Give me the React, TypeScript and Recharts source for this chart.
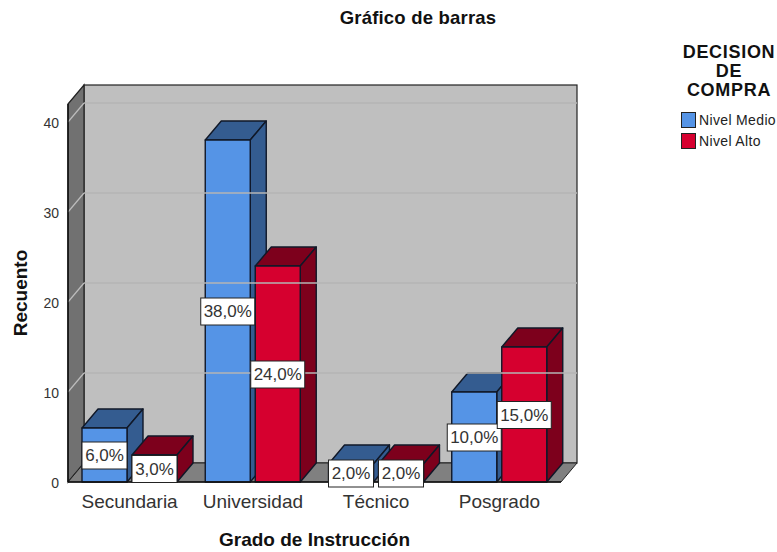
import { Bar, BarChart, Label, LabelList, Legend, ReferenceArea, ReferenceLine, XAxis, YAxis } from "recharts";

const categories = ["Secundaria", "Universidad", "Técnico", "Posgrado"];
const nivelMedio = [6, 38, 2, 10];
const nivelAlto = [3, 24, 2, 15];
const yTicks = [0, 10, 20, 30, 40];
const gridTicks = [10, 20, 30, 40];

const FONT = "'Liberation Sans', Arial, sans-serif";
// Desplazamiento de la pared del fondo respecto al plano frontal.
const DX = 16;
const DY = 19;

const data = categories.map((name, i) => ({
  name,
  medio: nivelMedio[i],
  alto: nivelAlto[i],
}));

const bar3d = (side: string) => (props: any) => {
  const { x, y, width, height, fill } = props;
  const edge = "#101828";
  return (
    <g stroke={edge} strokeWidth={1.4} strokeLinejoin="round">
      <polygon
        points={`${x},${y} ${x + DX},${y - DY} ${x + width + DX},${y - DY} ${x + width},${y}`}
        fill={side}
      />
      <polygon
        points={`${x + width},${y} ${x + width + DX},${y - DY} ${x + width + DX},${y + height - DY} ${x + width},${y + height}`}
        fill={side}
      />
      <rect x={x} y={y} width={width} height={height} fill={fill} />
    </g>
  );
};

const percentLabel = (props: any) => {
  const { x, y, width, height, value } = props;
  const text = `${Number(value).toFixed(1).replace(".", ",")}%`;
  const w = value >= 10 ? 54 : 45;
  const cx = x + width / 2;
  const cy = y + height / 2;
  return (
    <g>
      <rect x={cx - w / 2} y={cy - 13} width={w} height={27} fill="#fff" stroke="#222" strokeWidth={1} />
      <text x={cx} y={cy + 6} textAnchor="middle" fontSize={17} fontFamily={FONT} fill="#333">
        {text}
      </text>
    </g>
  );
};

const walls = (props: any) => {
  const { x, y, width, height } = props;
  const r = x + width;
  const b = y + height;
  return (
    <g>
      <rect x={x + DX} y={y - DY} width={width} height={height} fill="#bfbfbf" stroke="#222" strokeWidth={1.2} />
      <polygon
        points={`${x},${y} ${x + DX},${y - DY} ${x + DX},${b - DY} ${x},${b}`}
        fill="#717171"
        stroke="#222"
        strokeWidth={1.2}
      />
      <polygon points={`${x},${b} ${x + DX},${b - DY} ${r + DX},${b - DY} ${r},${b}`} fill="#808080" stroke="#222" strokeWidth={1} />
    </g>
  );
};

const gridLine = (props: any) => {
  const { x1, y1, x2 } = props;
  return (
    <g fill="none">
      <line x1={x1} y1={y1} x2={x1 + DX} y2={y1 - DY} stroke="#bdbdbd" strokeWidth={1.2} />
      <line x1={x1 + DX} y1={y1 - DY} x2={x2 + DX} y2={y1 - DY} stroke="#b5b5b5" strokeWidth={1.5} />
    </g>
  );
};

const legendContent = (props: any) => (
  <div style={{ fontFamily: FONT, width: 100 }}>
    <div
      style={{
        fontWeight: "bold",
        fontSize: 18,
        letterSpacing: 0.7,
        lineHeight: "19px",
        textAlign: "center",
        color: "#111",
        marginBottom: 9,
      }}
    >
      DECISION
      <br />
      DE
      <br />
      COMPRA
    </div>
    {props.payload?.map((item: any) => (
      <div key={item.value} style={{ display: "flex", alignItems: "center", height: 21, marginLeft: 2 }}>
        <span
          style={{
            width: 13,
            height: 14,
            background: item.color,
            border: "1px solid #222",
            marginRight: 3,
          }}
        />
        <span style={{ fontSize: 14, color: "#222", whiteSpace: "nowrap", letterSpacing: 0.35 }}>{item.value}</span>
      </div>
    ))}
  </div>
);

export default function App() {
  return (
    <div style={{ position: "absolute", left: 0, top: 0, width: 777, height: 552, background: "#fff", overflow: "hidden" }}>
      <div
        style={{
          position: "absolute",
          left: 268,
          width: 300,
          top: 8,
          textAlign: "center",
          fontFamily: FONT,
          fontWeight: "bold",
          fontSize: 18.5,
          letterSpacing: 0.2,
          lineHeight: "20px",
          color: "#111",
        }}
      >
        Gráfico de barras
      </div>
      <BarChart
        width={777}
        height={552}
        data={data}
        margin={{ top: 104, right: 116, bottom: 0, left: 0 }}
        barSize={45}
        barGap={5}
      >
        <ReferenceArea y1={0} y2={42} shape={walls} ifOverflow="visible" />
        {gridTicks.map((t) => (
          <ReferenceLine key={t} y={t} shape={gridLine} ifOverflow="visible" />
        ))}
        <XAxis
          dataKey="name"
          tickLine={false}
          axisLine={{ stroke: "#111", strokeWidth: 1.5 }}
          tick={{ fontSize: 19, fontFamily: FONT, fill: "#333" }}
          tickMargin={7}
          height={70}
          interval={0}
        >
          <Label
            value="Grado de Instrucción"
            position="insideBottom"
            offset={6}
            style={{ fontSize: 19, fontWeight: "bold", fontFamily: FONT, fill: "#111" }}
          />
        </XAxis>
        <YAxis
          domain={[0, 42]}
          ticks={yTicks}
          width={68}
          tickLine={false}
          axisLine={{ stroke: "#111", strokeWidth: 1.5 }}
          tick={{ fontSize: 14, fontFamily: FONT, fill: "#333", dy: 1 }}
          tickMargin={3}
        >
          <Label
            value="Recuento"
            angle={-90}
            position="insideLeft"
            offset={20}
            style={{ fontSize: 19, fontWeight: "bold", fontFamily: FONT, fill: "#111", textAnchor: "middle" }}
          />
        </YAxis>
        <Legend
          layout="vertical"
          align="right"
          verticalAlign="top"
          itemSorter={null}
          wrapperStyle={{ left: 679, top: 43, right: "auto", width: 100 }}
          content={legendContent}
        />
        <Bar dataKey="medio" name="Nivel Medio" fill="#5594e6" shape={bar3d("#345c90")} isAnimationActive={false}>
          <LabelList dataKey="medio" content={percentLabel} />
        </Bar>
        <Bar dataKey="alto" name="Nivel Alto" fill="#d6002f" shape={bar3d("#7d001c")} isAnimationActive={false}>
          <LabelList dataKey="alto" content={percentLabel} />
        </Bar>
      </BarChart>
    </div>
  );
}
